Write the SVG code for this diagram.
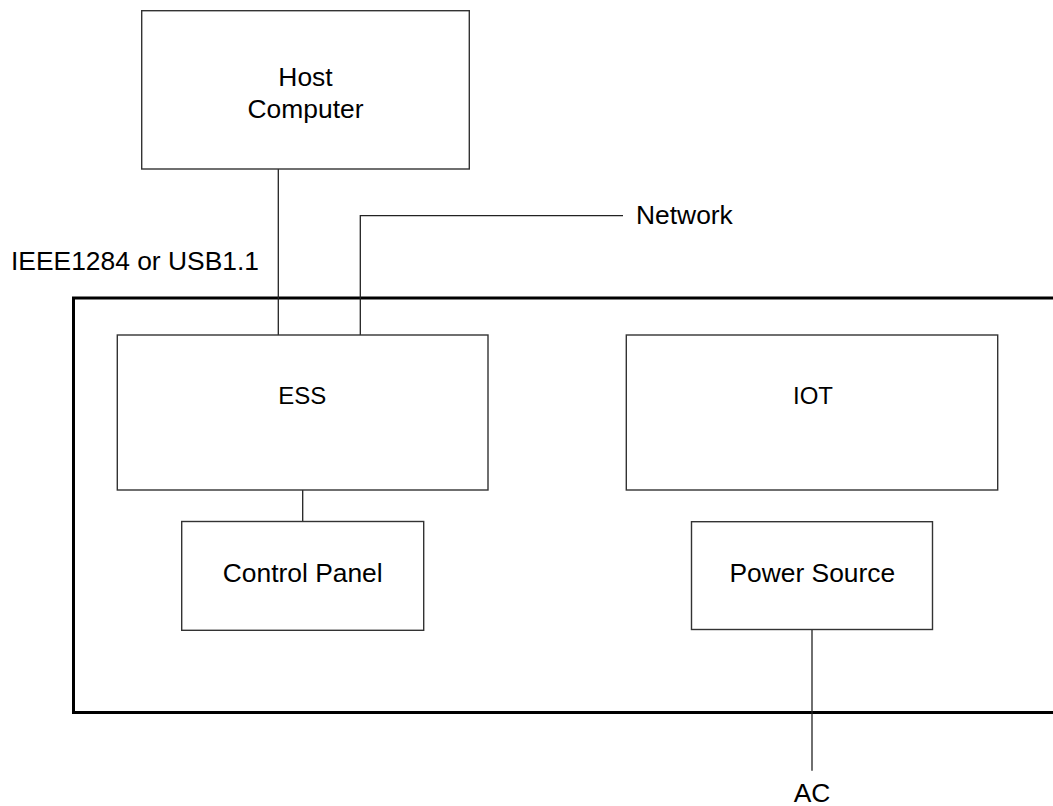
<svg xmlns="http://www.w3.org/2000/svg" width="1053" height="806" viewBox="0 0 1053 806">
<style>
.box{fill:#fff;stroke:#333;stroke-width:1.4}
.frame{fill:none;stroke:#000;stroke-width:3}
.ln{fill:none;stroke:#222;stroke-width:1.3}
text{font-family:"Liberation Sans",Arial,sans-serif;font-size:26.4px;fill:#000}
.c{text-anchor:middle}
.s{font-size:24px}
</style>
<rect width="1053" height="806" fill="#fff"/>
<g id="system-frame">
<path class="frame" d="M1060 298 H73.5 V712.5 H1060"/>
</g>
<g id="connectors">
<line class="ln" x1="278.3" y1="169" x2="278.3" y2="335"/>
<path class="ln" d="M360.3 335 V215.7 H623"/>
<line class="ln" x1="302.7" y1="490" x2="302.7" y2="521.5"/>
<line class="ln" x1="812" y1="629.5" x2="812" y2="770.7"/>
</g>
<g id="host-computer">
<rect class="box" x="141.7" y="10.7" width="327.6" height="158.3"/>
<text class="c" x="305.5" y="86">Host</text>
<text class="c" x="305.5" y="118">Computer</text>
</g>
<g id="ess">
<rect class="box" x="117.3" y="335" width="370.7" height="155"/>
<text class="c s" x="302.2" y="403.5">ESS</text>
</g>
<g id="iot">
<rect class="box" x="626.3" y="335" width="371.4" height="155"/>
<text class="c s" x="813" y="404">IOT</text>
</g>
<g id="control-panel">
<rect class="box" x="181.7" y="521.5" width="242" height="108.8"/>
<text class="c" x="302.7" y="582">Control Panel</text>
</g>
<g id="power-source">
<rect class="box" x="691.5" y="521.7" width="241" height="107.8"/>
<text class="c" x="812.3" y="581.7">Power Source</text>
</g>
<g id="labels">
<text x="11" y="270">IEEE1284 or USB1.1</text>
<text x="636" y="224">Network</text>
<text class="c" x="812" y="801.5">AC</text>
</g>
</svg>
